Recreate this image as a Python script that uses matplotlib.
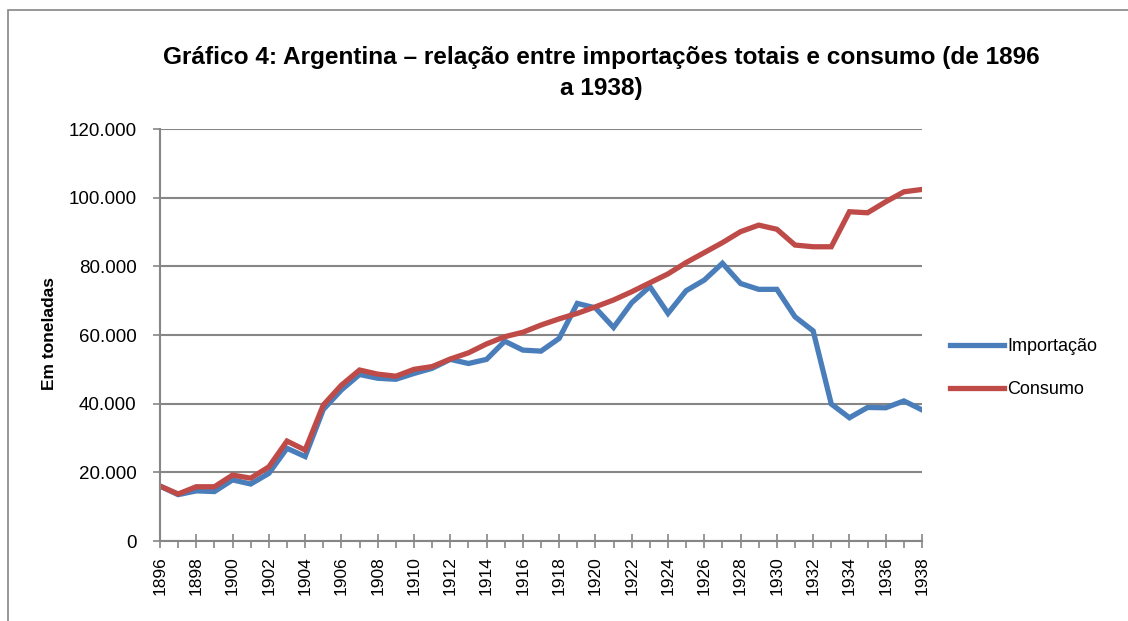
import matplotlib
matplotlib.use('Agg')
from matplotlib import pyplot as plt
from matplotlib.patches import Rectangle
from matplotlib.ticker import FuncFormatter, MultipleLocator
import numpy as np

# dados (toneladas)
anos = list(range(1896, 1939))
importacao = [16000, 13500, 14600, 14400, 17800, 16600, 19700, 27000, 24600, 38300,
              44000, 48500, 47400, 47100, 48800, 50300, 52900, 51700, 52900, 58200,
              55600, 55300, 59000, 69200, 67900, 62200, 69400, 74100, 66300, 72900,
              76000, 80900, 75000, 73300, 73300, 65300, 61200, 39900, 35900, 38900,
              38800, 40800, 38200]
consumo = [16000, 13700, 15800, 15800, 19200, 18300, 21600, 29100, 26500, 39600,
           45400, 49800, 48600, 48000, 50000, 50800, 53000, 54800, 57400, 59500,
           60800, 62900, 64700, 66300, 68200, 70200, 72600, 75200, 77800, 81100,
           84000, 86900, 90100, 92000, 90800, 86200, 85700, 85700, 95900, 95600,
           98800, 101700, 102400]

titulo = 'Gráfico 4: Argentina – relação entre importações totais e consumo (de 1896\na 1938)'

plt.rcParams['font.family'] = ['Liberation Sans', 'DejaVu Sans']

fig = plt.figure(figsize=(11.28, 6.21), dpi=100)
# moldura externa
fig.patches.append(Rectangle((8/1128, -0.05), 1.2, 1 - 10/621 + 0.05, transform=fig.transFigure,
                             fill=False, edgecolor='#868686', linewidth=1.2))

ax = fig.add_axes([160/1128, 80/621, 762/1128, 412/621])
ax.plot(anos, importacao, color='#4A7EBB', lw=3.8, label='Importação', solid_joinstyle='miter')
ax.plot(anos, consumo, color='#BE4B48', lw=3.8, label='Consumo', solid_joinstyle='miter')

ax.set_xlim(1896, 1938)
ax.set_ylim(0, 120000)
ax.yaxis.set_major_locator(MultipleLocator(20000))
ax.yaxis.set_major_formatter(FuncFormatter(lambda v, p: f'{int(v):,}'.replace(',', '.')))
ax.set_xticks(anos[::2])
ax.set_xticks(anos[1::2], minor=True)
ax.tick_params(axis='x', which='major', direction='inout', length=10, width=1.2, color='#868686',
               labelrotation=90, labelsize=12.5, pad=6)
ax.tick_params(axis='x', which='minor', direction='out', length=5, width=1.2, color='#868686')
ax.tick_params(axis='y', direction='out', length=5, width=1.2, color='#868686', labelsize=13.5, pad=12)
ax.grid(axis='y', color='#868686', lw=1.5)
ax.set_axisbelow(True)
for s in ['top', 'right']:
    ax.spines[s].set_visible(False)
for s in ['left', 'bottom']:
    ax.spines[s].set_color('#868686')
    ax.spines[s].set_linewidth(1.5)

fig.text(50/1128, 1 - 334/621, 'Em toneladas', rotation=90, fontsize=12.5, fontweight='bold',
         ha='center', va='center')
fig.text(601/1128, 1 - 73/621, titulo, fontsize=17.6, fontweight='bold', ha='center', va='center',
         linespacing=1.4)

ax.legend(loc='center left', bbox_to_anchor=(934/1128, 1 - 368/621), bbox_transform=fig.transFigure,
          frameon=False, fontsize=13, handlelength=2.95, handletextpad=0.2, labelspacing=1.45)

fig.savefig('out.png', dpi=100)
